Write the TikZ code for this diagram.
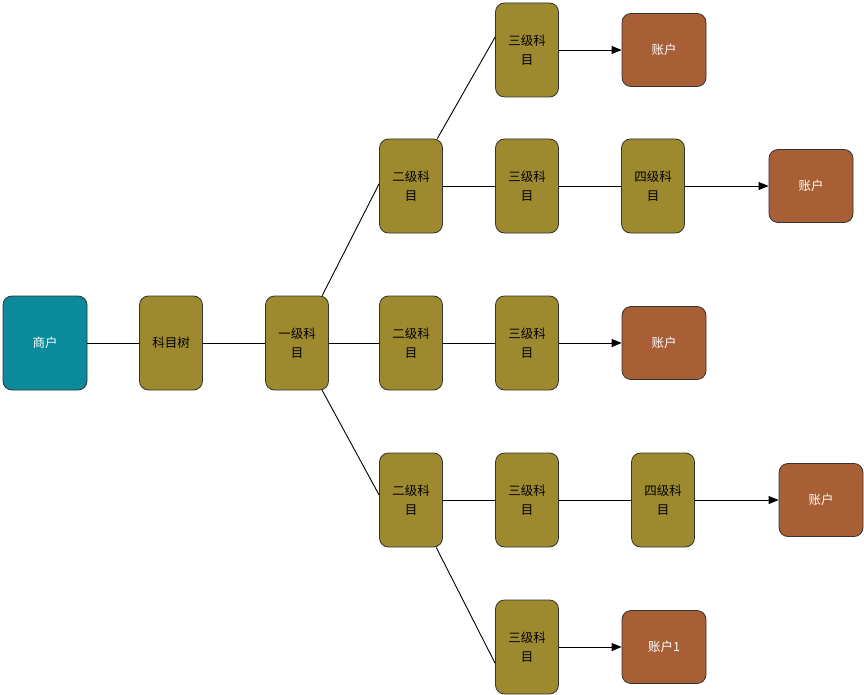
\documentclass[tikz,border=0pt]{standalone}
\usepackage{fontspec}
\setmainfont{Noto Sans CJK SC}
\usetikzlibrary{arrows.meta}
\definecolor{merchantteal}{HTML}{0B8A9B}
\definecolor{subjectolive}{HTML}{9E8A2E}
\definecolor{accountbrown}{HTML}{A85F35}
\begin{document}
\begin{tikzpicture}[x=1pt,y=-1pt,
		box/.style={draw=black!80,line width=0.8pt,rounded corners=9pt,inner sep=0pt,align=center,font=\fontsize{12.5}{19}\selectfont},
		subject/.style={box,fill=subjectolive,minimum width=63pt,minimum height=94pt},
		account/.style={box,fill=accountbrown,text=white,minimum width=84pt,minimum height=73pt},
		link/.style={line width=0.9pt},
		arr/.style={link,-{Triangle[length=10pt,width=8pt]}}]
		\useasboundingbox (0,0) rectangle (864,695);
		\node[box,fill=merchantteal,text=white,minimum width=84pt,minimum height=94pt] (merchant) at (45,343) {商户};
		\node[subject] (tree) at (171,343) {科目树};
		\node[subject] (lvlone) at (297,343) {一级科\\目};
		\node[subject] (lvltwoA) at (411,186) {二级科\\目};
		\node[subject] (lvltwoB) at (411,343) {二级科\\目};
		\node[subject] (lvltwoC) at (411,500) {二级科\\目};
		\node[subject] (lvlthreeA) at (527,50) {三级科\\目};
		\node[subject] (lvlthreeB) at (527,186) {三级科\\目};
		\node[subject] (lvlthreeC) at (527,343) {三级科\\目};
		\node[subject] (lvlthreeD) at (527,500) {三级科\\目};
		\node[subject] (lvlthreeE) at (527,647) {三级科\\目};
		\node[subject] (lvlfourB) at (653,186) {四级科\\目};
		\node[subject] (lvlfourD) at (663,500) {四级科\\目};
		\node[account] (accA) at (664,50) {账户};
		\node[account] (accB) at (811,186) {账户};
		\node[account] (accC) at (664,343) {账户};
		\node[account] (accD) at (821,500) {账户};
		\node[account] (accE) at (664,647) {账户1};
		% tree links
		\draw[link] (merchant) -- (tree);
		\draw[link] (tree) -- (lvlone);
		\draw[link] (lvlone.62) -- (lvltwoA.176);
		\draw[link] (lvlone) -- (lvltwoB);
		\draw[link] (lvlone.-62) -- (lvltwoC.171);
		\draw[link] (lvltwoA.61) -- (lvlthreeA.158);
		\draw[link] (lvltwoA) -- (lvlthreeB);
		\draw[link] (lvltwoB) -- (lvlthreeC);
		\draw[link] (lvltwoC) -- (lvlthreeD);
		\draw[link] (lvltwoC.-62) -- (lvlthreeE.207);
		\draw[link] (lvlthreeB) -- (lvlfourB);
		\draw[link] (lvlthreeD) -- (lvlfourD);
		% accounts
		\draw[arr] (lvlthreeA) -- (accA);
		\draw[arr] (lvlfourB) -- (accB);
		\draw[arr] (lvlthreeC) -- (accC);
		\draw[arr] (lvlfourD) -- (accD);
		\draw[arr] (lvlthreeE) -- (accE);
	\end{tikzpicture}
\end{document}
